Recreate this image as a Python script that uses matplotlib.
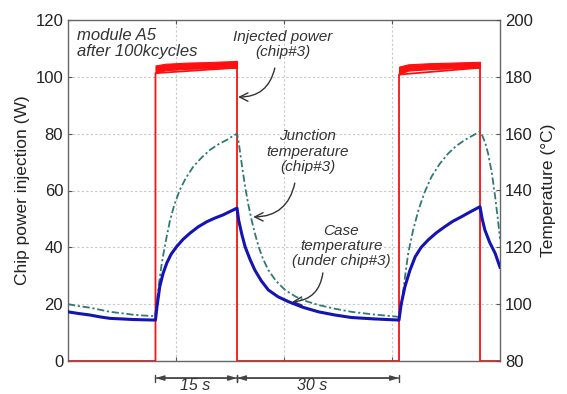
import matplotlib
matplotlib.use("Agg")
import matplotlib.pyplot as plt

plt.rcParams['font.family'] = ['Liberation Sans', 'DejaVu Sans']

# ---- data ----
# time in seconds, power in W, temperatures expressed on the left (0-120) scale
junction_t = [0.0, 2.0, 4.0, 6.0, 7.8, 10.0, 12.0, 14.0, 16.1,
              16.5, 16.9, 17.3, 17.7, 18.3, 18.9, 19.7, 20.7, 21.8, 23.2, 24.7, 26.3, 27.8,
              29.4, 30.4, 31.3,
              31.6, 32.2, 32.8, 33.4, 34.0, 34.6, 35.3, 36.1, 37.1, 38.5, 40.2, 42.2, 44.2,
              46.4, 49.4, 52.5, 56.5, 60.9, 61.3,
              61.8, 62.4, 63.0, 63.9, 64.9, 66.0, 67.3, 68.8, 70.4, 71.9, 73.5, 75.0, 76.3,
              76.8, 77.3, 77.8, 78.5, 79.1, 79.6, 80.0]
junction_v = [20.0, 19.3, 18.8, 18.0, 17.3, 16.8, 16.3, 16.0, 15.8,
              21.4, 28.0, 33.5, 38.0, 44.0, 49.6, 55.0, 60.2, 64.3, 68.4, 71.5, 74.3, 76.2,
              77.8, 79.0, 80.0,
              77.0, 69.0, 61.3, 55.0, 49.6, 45.0, 40.2, 36.0, 32.0, 28.2, 25.0, 22.6, 21.0,
              19.7, 18.4, 17.3, 16.4, 15.6, 15.5,
              20.4, 29.5, 37.9, 46.0, 53.1, 59.2, 64.8, 69.3, 73.0, 75.7, 77.8, 79.4, 80.7,
              79.0, 76.5, 73.0, 66.0, 57.8, 50.0, 43.0]

case_t = [0.0, 2.0, 4.0, 6.0, 7.8, 10.0, 12.0, 14.0, 16.2,
          16.5, 17.0, 17.6, 18.3, 19.1, 20.1, 21.3, 22.6, 24.1, 25.7, 27.2, 28.7, 30.0, 31.3,
          31.6, 32.2, 32.8, 33.7, 34.6, 35.8, 37.1, 38.9, 40.8, 43.5, 46.4, 49.4, 52.5,
          56.8, 61.3,
          61.7, 62.4, 63.3, 64.3, 65.4, 66.7, 68.2, 69.8, 71.3, 72.9, 74.6, 76.3,
          76.7, 77.2, 78.1, 79.1, 80.0]
case_v = [17.3, 16.7, 16.2, 15.5, 15.0, 14.8, 14.6, 14.5, 14.4,
          19.5, 26.2, 30.8, 34.5, 37.6, 40.2, 42.8, 45.0, 47.2, 49.0, 50.3, 51.4, 52.6, 53.8,
          49.6, 44.5, 40.2, 35.8, 32.0, 28.2, 25.0, 22.6, 20.9, 18.9, 17.3, 16.2, 15.3,
          14.8, 14.4,
          20.0, 26.2, 31.8, 36.7, 40.0, 42.6, 45.1, 47.3, 49.2, 50.8, 52.6, 54.3,
          50.0, 46.1, 41.7, 37.9, 33.0]

power_t = [0.0, 16.2, 16.2, 31.3, 31.3, 61.3, 61.3, 76.3, 76.3, 80.0]
power_v = [0.0, 0.0, 101.3, 103.2, 0.0, 0.0, 100.8, 103.2, 0.0, 0.0]

band1_t = [16.2, 18.0, 22.0, 26.0, 31.3]
band1_lo = [101.3, 102.3, 102.8, 103.0, 103.2]
band1_hi = [104.0, 104.6, 105.0, 105.2, 105.6]
band2_t = [61.3, 63.0, 67.0, 71.0, 76.3]
band2_lo = [100.8, 102.2, 102.7, 103.0, 103.2]
band2_hi = [103.6, 104.4, 104.8, 105.0, 105.3]

left_ticks = [0, 20, 40, 60, 80, 100, 120]
right_ticks = [80, 100, 120, 140, 160, 180, 200]
x_grid = [20, 40, 60]

# ---- figure ----
fig = plt.figure(figsize=(5.67, 3.94), dpi=100)
ax = fig.add_axes([68/567, 1-361/394, (500-68)/567, (361-20)/394])

red = '#ff1010'
ax.plot(power_t, power_v, color=red, lw=1.3, zorder=3)
ax.fill_between(band1_t, band1_lo, band1_hi, color=red, lw=0.8, zorder=3)
ax.fill_between(band2_t, band2_lo, band2_hi, color=red, lw=0.8, zorder=3)

ax.plot(junction_t, junction_v, color='#2f7a72', lw=1.3,
        linestyle=(0, (4, 1.5, 1.2, 1.5)), zorder=4)
ax.plot(case_t, case_v, color='#1414b4', lw=2.2, zorder=5)

ax.set_xlim(0, 80)
ax.set_ylim(0, 120)
ax.set_yticks(left_ticks)
ax.set_xticks(x_grid)
ax.set_xticklabels([])
ax.grid(True, color='#c8c8c8', linestyle=(0, (2, 2)), lw=0.8)
ax.tick_params(direction='in', labelsize=12, labelcolor='#222222', color='#555555',
               top=True, length=3)
for s in ax.spines.values():
    s.set_color('#666666')
    s.set_linewidth(1.0)
ax.set_ylabel('Chip power injection (W)', fontsize=12.5, color='#222222', labelpad=4)

ax2 = ax.twinx()
ax2.set_ylim(80, 200)
ax2.set_yticks(right_ticks)
ax2.tick_params(direction='in', labelsize=12, labelcolor='#222222', color='#555555', length=3)
for s in ax2.spines.values():
    s.set_visible(False)
ax2.set_ylabel('Temperature (°C)', fontsize=12.5, color='#222222', labelpad=6)

tc = '#333333'
ax.text(1.67, 111.7, 'module A5\nafter 100kcycles', fontsize=12, style='italic',
        color=tc, ha='left', va='center', linespacing=1.05)
ax.text(39.8, 111.5, 'Injected power\n(chip#3)', fontsize=11, style='italic',
        color=tc, ha='center', va='center', linespacing=1.1)
ax.text(44.4, 73.7, 'Junction\ntemperature\n(chip#3)', fontsize=11, style='italic',
        color=tc, ha='center', va='center', linespacing=1.1)
ax.text(50.6, 40.5, 'Case\ntemperature\n(under chip#3)', fontsize=11, style='italic',
        color=tc, ha='center', va='center', linespacing=1.1)

aprops = dict(arrowstyle='->,head_length=0.6,head_width=0.3', color=tc, lw=1.0,
              connectionstyle='arc3,rad=-0.4', shrinkA=0, shrinkB=0)
ax.annotate('', xy=(31.5, 92.9), xytext=(38.3, 103.1), arrowprops=aprops)
ax.annotate('', xy=(34.3, 50.7), xytext=(42.0, 62.6), arrowprops=aprops)
ax.annotate('', xy=(41.5, 20.8), xytext=(47.2, 31.0), arrowprops=aprops)

# dimension arrows below the axes
for (a, b) in [(16.2, 31.3), (31.3, 61.3)]:
    for st in ['<|-|>,head_length=0.5,head_width=0.15', '|-|,widthA=0.25,widthB=0.25']:
        ax.annotate('', xy=(b, -6.0), xytext=(a, -6.0), annotation_clip=False,
                    arrowprops=dict(arrowstyle=st, color='#444444', lw=1.0,
                                    shrinkA=0, shrinkB=0))
for (xc, lab) in [(195, '15 s'), (312, '30 s')]:
    fig.text(xc/567, 1.5/394, lab, fontsize=11.5, style='italic', color=tc,
             ha='center', va='bottom')

fig.savefig('out.png', dpi=100)
